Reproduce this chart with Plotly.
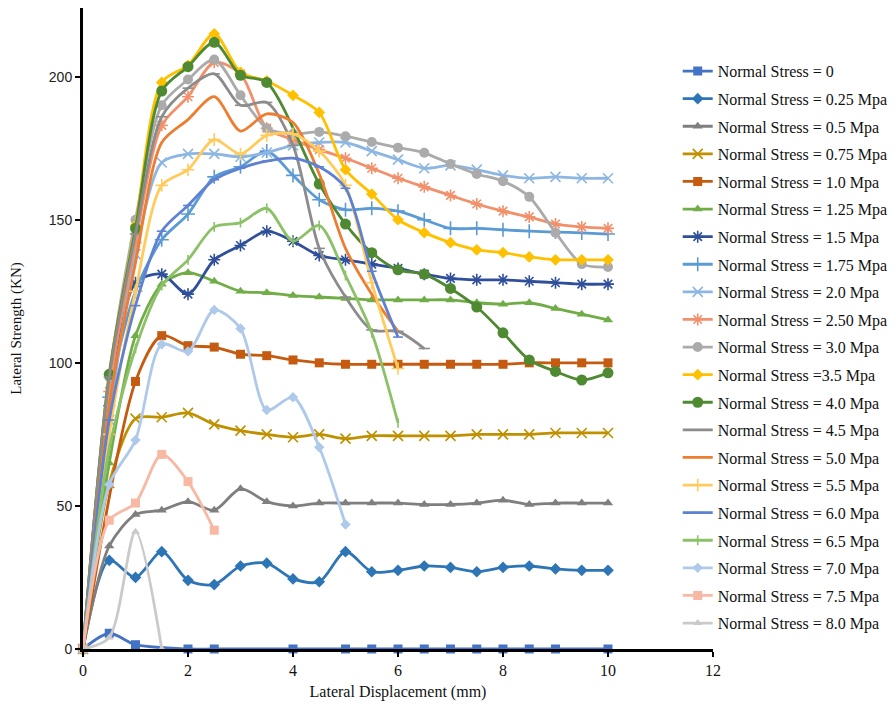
import plotly.graph_objects as go

# ---------------- data ----------------
X_FULL = [0, 0.5, 1, 1.5, 2, 2.5, 3, 3.5, 4, 4.5, 5, 5.5, 6, 6.5, 7, 7.5, 8, 8.5, 9, 9.5, 10]

s0_x = [0, 0.5, 1, 2, 2.5, 4, 5, 5.5, 6, 6.5, 7, 7.5, 8, 8.5, 9, 10]
s0_y = [0, 5.5, 1.5, 0, 0, 0, 0, 0, 0, 0, 0, 0, 0, 0, 0, 0]

s025_y = [0, 31, 25, 34, 24, 22.5, 29, 30, 24.5, 23.5, 34, 27, 27.5, 29, 28.5, 27, 28.5, 29, 28, 27.5, 27.5]
s05_y = [0, 36, 47, 48.5, 51.5, 48.5, 56, 51.5, 50, 51, 51, 51, 51, 50.5, 50.5, 51, 52, 50.5, 51, 51, 51]
s075_y = [0, 58, 80.5, 81, 82.5, 78.5, 76.3, 75, 74, 75, 73.5, 74.5, 74.5, 74.5, 74.5, 75, 75, 75, 75.5, 75.5, 75.5]

s1_x = [0, 1, 1.5, 2, 2.5, 3, 3.5, 4, 4.5, 5, 5.5, 6, 6.5, 7, 7.5, 8, 8.5, 9, 9.5, 10]
s1_y = [0, 93.5, 109.5, 106, 105.5, 103, 102.5, 101, 100, 99.5, 99.5, 99.5, 99.5, 99.5, 99.5, 99.5, 100, 100, 100, 100]

s125_y = [0, 65, 109.5, 127.5, 131.5, 128.5, 125, 124.5, 123.5, 123, 122.5, 122, 122, 122, 122, 121, 120.5, 121, 119, 117, 115]
s15_y = [0, 85, 128, 131, 124, 136, 141, 146, 142.5, 137.5, 136, 134.5, 133, 131, 129.5, 129, 129, 128.5, 128, 127.5, 127.5]
s175_y = [0, 88, 125, 143, 152, 165, 168.5, 174, 165.5, 157, 153.5, 154, 153, 150, 147, 147, 146.5, 146, 145.7, 145.4, 145]
s2_y = [0, 80, 138, 170, 173, 173, 172, 173.5, 176, 177, 177, 174, 171, 168, 169, 167.5, 165.5, 164.5, 165, 164.5, 164.5]
s25_y = [0, 90, 142, 183, 193, 205, 201, 182, 178, 174.5, 171.5, 168, 164.5, 161.5, 158.5, 155.5, 153, 151, 148.5, 147.5, 147]
s3_y = [0, 95, 150, 190, 199, 206, 193.5, 182, 180, 180.7, 179.2, 177.2, 175.2, 173.4, 169.5, 166, 163.5, 158, 145.5, 134.5, 133.5]
s35_y = [0, 96, 148, 198, 204, 215, 201.5, 198.5, 193.5, 187.5, 167.5, 159, 150, 145.5, 142, 139.5, 138.5, 137, 136, 136, 136]

s4_x = [0, 0.5, 1, 1.5, 2, 2.5, 3, 3.5, 4.5, 5, 5.5, 6, 6.5, 7, 7.5, 8, 8.5, 9, 9.5, 10]
s4_y = [0, 96, 147, 195, 203.5, 212, 200.5, 198, 162.5, 148.5, 138.5, 132.5, 131, 126, 119.5, 110.5, 101, 97, 94, 96.5]

s45_x = [0, 0.5, 1, 1.5, 2, 2.5, 3, 3.5, 4, 4.5, 5, 5.5, 6, 6.5]
s45_y = [0, 95, 145, 186, 196, 201, 190, 191, 176, 140, 123, 111.5, 111, 105]

X_TO6 = [0, 0.5, 1, 1.5, 2, 2.5, 3, 3.5, 4, 4.5, 5, 5.5, 6]
s5_y = [0, 85, 135, 177, 185, 193, 181, 187, 184, 166, 140, 124, 111]
s55_y = [0, 75, 125, 162, 167.5, 178, 173, 179.5, 180, 174, 162, 128, 98]
s6_y = [0, 80, 120, 146, 155, 164, 168, 170.5, 171.5, 168.5, 161, 132, 109]
s65_y = [0, 70, 105, 127, 136, 147.5, 149, 154, 142.5, 148, 130.5, 110.5, 79]

s7_x = [0, 0.5, 1, 1.5, 2, 2.5, 3, 3.5, 4, 4.5, 5]
s7_y = [0, 57.5, 73, 106.5, 104, 118.5, 112, 83.5, 88, 70.5, 43.5]

s75_x = [0, 0.5, 1, 1.5, 2, 2.5]
s75_y = [0, 45, 51, 68, 58.5, 41.5]

s8_x = [0, 0.5, 1, 1.5]
s8_y = [0, 4, 41, 0]

LABELS = ["Normal Stress = 0", "Normal Stress = 0.25 Mpa", "Normal Stress = 0.5 Mpa",
          "Normal Stress = 0.75 Mpa", "Normal Stress = 1.0 Mpa", "Normal Stress = 1.25 Mpa",
          "Normal Stress = 1.5 Mpa", "Normal Stress = 1.75 Mpa", "Normal Stress = 2.0 Mpa",
          "Normal Stress = 2.50 Mpa", "Normal Stress = 3.0 Mpa", "Normal Stress =3.5 Mpa",
          "Normal Stress = 4.0 Mpa", "Normal Stress = 4.5 Mpa", "Normal Stress = 5.0 Mpa",
          "Normal Stress = 5.5 Mpa", "Normal Stress = 6.0 Mpa", "Normal Stress = 6.5 Mpa",
          "Normal Stress = 7.0 Mpa", "Normal Stress = 7.5 Mpa", "Normal Stress = 8.0 Mpa"]

SERIES = [
    (s0_x, s0_y), (X_FULL, s025_y), (X_FULL, s05_y), (X_FULL, s075_y), (s1_x, s1_y),
    (X_FULL, s125_y), (X_FULL, s15_y), (X_FULL, s175_y), (X_FULL, s2_y), (X_FULL, s25_y),
    (X_FULL, s3_y), (X_FULL, s35_y), (s4_x, s4_y), (s45_x, s45_y), (X_TO6, s5_y),
    (X_TO6, s55_y), (X_TO6, s6_y), (X_TO6, s65_y), (s7_x, s7_y), (s75_x, s75_y), (s8_x, s8_y),
]

# ---------------- styles ----------------
COLORS = ["#4472C4", "#2E75B6", "#7F7F7F", "#BF9000", "#C55A11", "#70AD47", "#2F4F9A",
          "#5B9BD5", "#8DB6E2", "#F1906A", "#ABABAB", "#FFC000", "#4F8A33", "#8C8C8C",
          "#ED7D31", "#FFCB5C", "#5E81D1", "#8CC168", "#AEC9EA", "#F7B9A4", "#CACACA"]
SYMBOLS = ["square", "diamond", "triangle-up", "x-thin-open", "square", "triangle-up",
           "asterisk-open", "cross-thin-open", "x-thin-open", "asterisk-open", "circle",
           "diamond", "circle", "line-ew-open", None, "cross-thin-open", "line-ew-open",
           "line-ns-open", "diamond", "square", "triangle-up"]
SIZES = [9, 9, 9, 10, 9, 9, 10, 10, 10, 10, 10, 9, 11, 8, 0, 9, 7, 7, 8, 9, 8]

fig = go.Figure()
for (xs, ys), name, col, sym, sz in zip(SERIES, LABELS, COLORS, SYMBOLS, SIZES):
    if sym is None:
        mode = "lines"
        marker = dict()
    else:
        mode = "lines+markers"
        if sym.endswith("-open"):
            marker = dict(symbol=sym, size=sz, color=col, line=dict(color=col, width=1.6))
        else:
            marker = dict(symbol=sym, size=sz, color=col, line=dict(width=0))
    fig.add_trace(go.Scatter(
        x=xs, y=ys, name=name, mode=mode, marker=marker,
        line=dict(color=col, width=2.8, shape="spline", smoothing=0.8),
        cliponaxis=False, legendgroup=name,
    ))

fig.update_layout(
    width=896, height=712,
    margin=dict(l=72, r=191, t=0, b=71),
    paper_bgcolor="white", plot_bgcolor="white",
    showlegend=True,
    legend=dict(
        x=0.944, y=0.928, xanchor="left", yanchor="top",
        font=dict(family="Liberation Serif", size=16, color="#111"),
        bgcolor="rgba(0,0,0,0)", tracegroupgap=3.8, itemwidth=30,
    ),
    xaxis=dict(
        range=[0, 12], tickvals=[0, 2, 4, 6, 8, 10, 12], showgrid=False, zeroline=False,
        showline=True, linecolor="black", linewidth=3,
        ticks="outside", ticklen=5, tickwidth=2, tickcolor="black",
        tickfont=dict(family="Liberation Serif", size=16, color="#111"),
        title=dict(text="Lateral Displacement (mm)", standoff=8,
                   font=dict(family="Liberation Serif", size=16, color="#111")),
    ),
    yaxis=dict(
        range=[0, 224], tickvals=[0, 50, 100, 150, 200], showgrid=False, zeroline=False,
        showline=True, linecolor="black", linewidth=3,
        ticks="outside", ticklen=5, tickwidth=2, tickcolor="black",
        tickfont=dict(family="Liberation Sans", size=14, color="#222"),
        title=dict(text="Lateral Strength (KN)", standoff=30,
                   font=dict(family="Liberation Serif", size=15, color="#111")),
    ),
)

fig.write_html("out.html")
